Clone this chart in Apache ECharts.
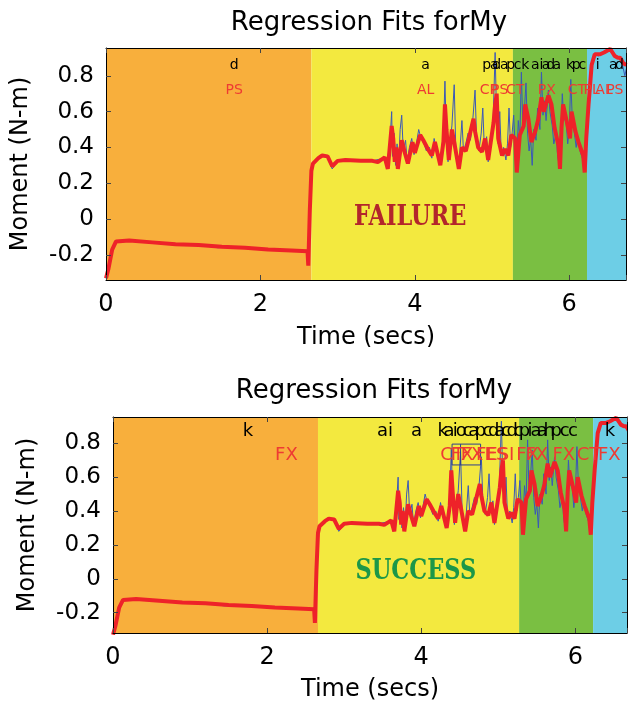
<!DOCTYPE html>
<html><head><meta charset="utf-8">
<script src="https://cdn.jsdelivr.net/npm/echarts@6/dist/echarts.min.js"></script>
<style>html,body{margin:0;padding:0;background:#fff}#c{width:628px;height:706px}</style>
</head><body><div id="c"></div>
<script>
// Phase boundaries (secs) and colours
const phaseBounds = [0, 2.66, 5.27, 6.23, 6.80];
const phaseColors = ['#F8AF3C', '#F3E93F', '#7ABF42', '#6DCEE6'];

// Regression fit (red), [time, moment]
const fitPoints = [[0.00,-0.33],[0.03,-0.28],[0.08,-0.17],[0.13,-0.125],[0.30,-0.12],[0.60,-0.13],[0.90,-0.14],[1.20,-0.145],[1.50,-0.155],[1.80,-0.16],[2.10,-0.17],[2.40,-0.175],[2.61,-0.18],[2.62,-0.26],[2.64,0.05],[2.66,0.27],[2.68,0.31],[2.75,0.34],[2.80,0.355],[2.87,0.35],[2.93,0.295],[3.00,0.325],[3.10,0.33],[3.30,0.325],[3.45,0.325],[3.52,0.318],[3.61,0.345],[3.65,0.28],[3.70,0.52],[3.72,0.45],[3.74,0.32],[3.76,0.40],[3.78,0.28],[3.83,0.44],[3.87,0.37],[3.91,0.31],[3.97,0.43],[4.00,0.37],[4.07,0.47],[4.11,0.44],[4.17,0.39],[4.22,0.355],[4.26,0.43],[4.33,0.30],[4.37,0.43],[4.39,0.64],[4.41,0.50],[4.44,0.33],[4.48,0.50],[4.51,0.43],[4.55,0.33],[4.57,0.28],[4.61,0.40],[4.66,0.38],[4.70,0.45],[4.76,0.56],[4.78,0.49],[4.82,0.40],[4.87,0.375],[4.91,0.45],[4.95,0.33],[4.97,0.39],[5.02,0.54],[5.04,0.64],[5.06,0.70],[5.08,0.45],[5.13,0.355],[5.17,0.39],[5.21,0.355],[5.25,0.47],[5.30,0.45],[5.32,0.26],[5.36,0.47],[5.41,0.52],[5.43,0.64],[5.47,0.56],[5.51,0.43],[5.56,0.49],[5.60,0.56],[5.64,0.68],[5.67,0.60],[5.73,0.69],[5.77,0.64],[5.81,0.51],[5.86,0.41],[5.88,0.28],[5.90,0.51],[5.92,0.64],[5.97,0.54],[6.01,0.45],[6.03,0.60],[6.08,0.49],[6.12,0.43],[6.18,0.355],[6.20,0.26],[6.22,0.45],[6.25,0.64],[6.27,0.75],[6.29,0.86],[6.33,0.92],[6.40,0.92],[6.45,0.93],[6.49,0.94],[6.53,0.95],[6.56,0.93],[6.59,0.91],[6.63,0.90],[6.66,0.90],[6.70,0.87],[6.74,0.86]];

// Measured moment (blue), [time, moment]
const rawPoints = [[0.00,-0.33],[0.03,-0.27],[0.08,-0.17],[0.13,-0.125],[0.40,-0.12],[0.80,-0.135],[1.20,-0.145],[1.45,-0.16],[1.60,-0.155],[2.00,-0.165],[2.40,-0.175],[2.63,-0.18],[2.65,0.25],[2.67,0.31],[2.75,0.34],[2.82,0.36],[2.87,0.34],[2.93,0.28],[3.00,0.325],[3.20,0.33],[3.45,0.325],[3.60,0.34],[3.64,0.30],[3.68,0.45],[3.70,0.60],[3.71,0.35],[3.73,0.48],[3.75,0.30],[3.77,0.42],[3.79,0.30],[3.81,0.50],[3.83,0.58],[3.85,0.38],[3.88,0.44],[3.90,0.32],[3.93,0.40],[3.96,0.45],[3.99,0.36],[4.02,0.42],[4.05,0.50],[4.08,0.45],[4.12,0.42],[4.15,0.38],[4.19,0.40],[4.22,0.34],[4.25,0.45],[4.28,0.38],[4.31,0.33],[4.34,0.36],[4.37,0.48],[4.39,0.77],[4.41,0.42],[4.43,0.32],[4.46,0.45],[4.48,0.52],[4.51,0.75],[4.53,0.40],[4.56,0.30],[4.58,0.36],[4.61,0.55],[4.63,0.38],[4.66,0.42],[4.69,0.48],[4.72,0.44],[4.75,0.55],[4.78,0.72],[4.80,0.45],[4.83,0.38],[4.86,0.48],[4.88,0.62],[4.90,0.40],[4.93,0.46],[4.95,0.32],[4.98,0.42],[5.01,0.50],[5.04,0.93],[5.06,0.55],[5.08,0.42],[5.10,0.60],[5.12,0.36],[5.15,0.40],[5.18,0.33],[5.20,0.42],[5.22,0.62],[5.24,0.40],[5.26,0.48],[5.28,0.58],[5.30,0.40],[5.32,0.33],[5.34,0.55],[5.36,0.45],[5.38,0.82],[5.40,0.50],[5.42,0.62],[5.44,0.76],[5.46,0.48],[5.48,0.38],[5.50,0.45],[5.52,0.30],[5.54,0.50],[5.57,0.44],[5.59,0.62],[5.62,0.50],[5.64,0.82],[5.66,0.58],[5.68,0.66],[5.70,0.55],[5.73,0.72],[5.75,0.60],[5.78,0.52],[5.80,0.42],[5.83,0.48],[5.85,0.35],[5.87,0.30],[5.89,0.45],[5.91,0.70],[5.93,0.55],[5.95,0.60],[5.98,0.42],[6.00,0.50],[6.02,0.78],[6.04,0.55],[6.06,0.50],[6.09,0.40],[6.11,0.46],[6.14,0.38],[6.17,0.34],[6.19,0.30],[6.21,0.42],[6.23,0.55],[6.25,0.66],[6.27,0.76],[6.29,0.85],[6.31,0.90],[6.34,0.92],[6.38,0.91],[6.42,0.93],[6.46,0.93],[6.50,0.95],[6.53,0.94],[6.56,0.92],[6.60,0.91],[6.64,0.90],[6.68,0.88],[6.72,0.80],[6.74,0.84]];

// Tick labels
const xTicks = [0, 2, 4, 6];
const yTicks = [-0.2, 0, 0.2, 0.4, 0.6, 0.8];

// Top chart annotations
const topLetterText = ['d','a','p','d','a','a','p','c','k','a','i','a','d','a','k','p','c','i','a','d'];
const topLetterTime = [1.66,4.14,4.93,5.06,5.03,5.16,5.24,5.33,5.43,5.56,5.64,5.70,5.76,5.84,6.01,6.09,6.17,6.37,6.57,6.65];
const topClassText = ['PS','AL','CP','PS','CT','PX','CT','PL','AL','PS'];
const topClassTime = [1.66,4.14,4.96,5.10,5.30,5.71,6.10,6.29,6.45,6.59];
const topLetterLevel = 0.857, topClassLevel = 0.72;

// Bottom chart annotations
const botLetterText = ['k','ai','a','k','a','i','o','c','a','p','c','d','a','c','d','c','p','i','a','a','h','p','c','c','k'];
const botLetterTime = [1.75,3.53,3.94,4.28,4.36,4.44,4.52,4.60,4.68,4.77,4.86,4.94,5.02,5.10,5.18,5.26,5.34,5.41,5.49,5.57,5.66,5.75,5.86,5.97,6.45];
const botClassText = ['FX','CT','FX','FX','FE','ES','SI','FX','FX','FX','CT','FX'];
const botClassTime = [2.25,4.40,4.53,4.66,4.85,4.97,5.10,5.38,5.50,5.85,6.17,6.44];
const botLetterLevel = 0.868, botClassLevel = 0.73;

// Outcome banners [text, time, moment]
const topBanner = ['FAILURE', 3.94, 0.01];
const botBanner = ['SUCCESS', 3.93, 0.043];

// Highlight box in bottom chart
const boxOutline = [[4.40,0.795],[4.77,0.795],[4.77,0.672],[4.40,0.672],[4.40,0.795]];
const boxDivider = [[4.51,0.795],[4.51,0.672]];

const FONT = 'DejaVu Sans';
const BANNER_FONT = '"DejaVu Serif Condensed", "DejaVu Serif", serif';

function phaseArea() {
  const d = [];
  for (let i = 0; i < phaseColors.length; i++) {
    d.push([{xAxis: phaseBounds[i], itemStyle: {color: phaseColors[i], opacity: 1}}, {xAxis: phaseBounds[i + 1]}]);
  }
  return d;
}
function xAxes(grid, max, gap) {
  const base = {type: 'value', gridIndex: grid, min: 0, max: max, interval: 2, z: 10,
    splitLine: {show: false},
    axisLine: {show: true, onZero: false, lineStyle: {color: '#000', width: 1}},
    axisTick: {show: true, inside: true, length: 5, lineStyle: {color: '#444'}}};
  return [
    Object.assign({}, base, {position: 'bottom',
      axisLabel: {show: true, fontSize: 24, color: '#000', margin: 13, fontFamily: FONT, customValues: xTicks},
      name: 'Time (secs)', nameLocation: 'middle', nameGap: gap,
      nameTextStyle: {fontSize: 24, color: '#000', fontFamily: FONT}}),
    Object.assign({}, base, {position: 'top', axisLabel: {show: false}})
  ];
}
function yAxes(grid, min, max) {
  const base = {type: 'value', gridIndex: grid, min: min, max: max, z: 10,
    splitLine: {show: false},
    axisLine: {show: true, onZero: false, lineStyle: {color: '#000', width: 1}},
    axisTick: {show: true, inside: true, length: 5, customValues: yTicks, lineStyle: {color: '#444'}}};
  return [
    Object.assign({}, base, {position: 'left',
      axisLabel: {show: true, fontSize: 23, color: '#000', margin: 12, fontFamily: FONT, customValues: yTicks,
        formatter: v => String(Math.round(v * 10) / 10)},
      name: 'Moment (N-m)', nameLocation: 'middle', nameGap: 73,
      nameTextStyle: {fontSize: 24, color: '#000', fontFamily: FONT}}),
    Object.assign({}, base, {position: 'right', axisLabel: {show: false}})
  ];
}
// Text annotations drawn at data coordinates through the axes
function textSeries(ax, texts, times, levels, color, font, scaleY) {
  const data = texts.map((t, i) => [times[i], Array.isArray(levels) ? levels[i] : levels]);
  return {
    type: 'custom', xAxisIndex: ax, yAxisIndex: ax, z: 6, silent: true, clip: false,
    data: data,
    renderItem: function (params, api) {
      const p = api.coord([api.value(0), api.value(1)]);
      return {type: 'text', x: p[0], y: p[1], scaleY: scaleY || 1,
        style: {text: texts[params.dataIndex], fill: color, font: font, align: 'center', verticalAlign: 'middle'}};
    }
  };
}
function chartSeries(ax, letterT, letterX, classT, classX, lLevel, cLevel, labelSize, banner, bannerColor) {
  return [
    {type: 'line', xAxisIndex: ax, yAxisIndex: ax, data: [], z: 1, silent: true,
      markArea: {silent: true, data: phaseArea()}},
    {type: 'line', xAxisIndex: ax, yAxisIndex: ax, data: rawPoints, showSymbol: false, symbol: 'none', z: 3,
      lineStyle: {color: '#3A58B8', width: 1}},
    {type: 'line', xAxisIndex: ax, yAxisIndex: ax, data: fitPoints, showSymbol: false, symbol: 'none', z: 4,
      lineStyle: {color: '#EE2229', width: 4}},
    textSeries(ax, letterT, letterX, lLevel, '#000', labelSize + 'px "DejaVu Sans"'),
    textSeries(ax, classT, classX, cLevel, '#EE3B33', labelSize + 'px "DejaVu Sans"'),
    textSeries(ax, [banner[0]], [banner[1]], [banner[2]], bannerColor, 'bold 25px ' + BANNER_FONT, 1.15)
  ];
}

const option = {
  animation: false,
  backgroundColor: '#fff',
  textStyle: {fontFamily: FONT},
  title: [
    {text: 'Regression Fits forMy', left: 364, top: 5, textAlign: 'center',
      textStyle: {fontSize: 26, fontWeight: 'normal', color: '#000', fontFamily: FONT}},
    {text: 'Regression Fits forMy', left: 369, top: 373, textAlign: 'center',
      textStyle: {fontSize: 26, fontWeight: 'normal', color: '#000', fontFamily: FONT}}
  ],
  grid: [
    {left: 106, top: 48, width: 520, height: 232},
    {left: 113, top: 417, width: 514, height: 216}
  ],
  xAxis: [].concat(xAxes(0, 6.735, 46), xAxes(1, 6.67, 45)),
  yAxis: [].concat(yAxes(0, -0.34, 0.955), yAxes(1, -0.32, 0.955)),
  // the upper figure is cropped just below its x-axis title, as in the source image
  graphic: [{type: 'rect', shape: {x: 0, y: 347, width: 628, height: 14}, style: {fill: '#fff'}, z: 100, silent: true}],
  series: []
};
const topS = chartSeries(0, topLetterText, topLetterTime, topClassText, topClassTime, topLetterLevel, topClassLevel, 14,
  topBanner, '#B3262B');
const botS = chartSeries(2, botLetterText, botLetterTime, botClassText, botClassTime, botLetterLevel, botClassLevel, 18,
  botBanner, '#1C9748');
botS.push({type: 'line', xAxisIndex: 2, yAxisIndex: 2, data: boxOutline, showSymbol: false, symbol: 'none', z: 5,
  lineStyle: {color: '#2E3F8F', width: 1}});
botS.push({type: 'line', xAxisIndex: 2, yAxisIndex: 2, data: boxDivider, showSymbol: false, symbol: 'none', z: 5,
  lineStyle: {color: '#2E3F8F', width: 1}});
option.series = topS.concat(botS);

const chart = echarts.init(document.getElementById('c'), null, {renderer: 'canvas'});
chart.setOption(option);
</script></body></html>
